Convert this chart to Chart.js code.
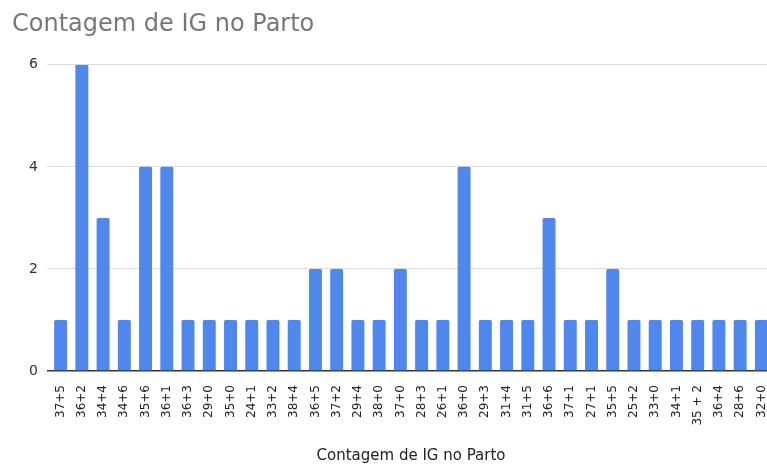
<!DOCTYPE html>
<html>
<head>
<meta charset="utf-8">
<script src="https://cdn.jsdelivr.net/npm/chart.js@4"></script>
<style>
  html, body { margin: 0; padding: 0; background: #fff; overflow: hidden; }
  #wrap { width: 772px; height: 467px; position: relative; }
</style>
</head>
<body>
<div id="wrap"><canvas id="c"></canvas></div>
<script>
// Gestational age at delivery (weeks+days) and how many times each occurs
const categories = [
  "37+5", "36+2", "34+4", "34+6", "35+6", "36+1", "36+3", "29+0", "35+0", "24+1",
  "33+2", "38+4", "36+5", "37+2", "29+4", "38+0", "37+0", "28+3", "26+1", "36+0",
  "29+3", "31+4", "31+5", "36+6", "37+1", "27+1", "35+5", "25+2", "33+0", "34+1",
  "35 + 2", "36+4", "28+6", "32+0"
];
const counts = [
  1, 6, 3, 1, 4, 4, 1, 1, 1, 1,
  1, 1, 2, 2, 1, 1, 2, 1, 1, 4,
  1, 1, 1, 3, 1, 1, 2, 1, 1, 1,
  1, 1, 1, 1
];
const yTicks = [0, 2, 4, 6];

const FONT = "'DejaVu Sans', 'Liberation Sans', sans-serif";

new Chart(document.getElementById('c'), {
  type: 'bar',
  data: {
    labels: categories,
    datasets: [{
      label: 'Contagem de IG no Parto',
      data: counts,
      backgroundColor: '#4f87ec',
      borderRadius: 1.5,
      borderSkipped: 'start',
      barPercentage: 0.61,
      categoryPercentage: 1.0
    }]
  },
  options: {
    responsive: true,
    maintainAspectRatio: false,
    animation: false,
    layout: { padding: { left: 12, right: 0, top: 0, bottom: 0 } },
    plugins: {
      legend: { display: false },
      tooltip: { enabled: false },
      title: {
        display: true,
        text: 'Contagem de IG no Parto',
        align: 'start',
        color: '#777',
        font: { family: FONT, size: 24, weight: 'normal' },
        padding: { top: 10, bottom: 26 }
      }
    },
    scales: {
      x: {
        grid: { display: false },
        border: { display: false },
        ticks: {
          color: '#222',
          font: { family: FONT, size: 12 },
          maxRotation: 90,
          minRotation: 90,
          autoSkip: false,
          padding: 6
        },
        title: {
          display: true,
          text: 'Contagem de IG no Parto',
          color: '#222',
          font: { family: FONT, size: 15 },
          padding: { top: 4, bottom: 2 }
        },
        afterFit: (s) => {
          s.height = 96;
          // the plot runs right up to the canvas edge; no extra room for the last label
          s.paddingLeft = 0;
          s.paddingRight = 0;
        }
      },
      y: {
        min: 0,
        max: 6,
        afterBuildTicks: (s) => { s.ticks = yTicks.map(v => ({ value: v })); },
        afterFit: (s) => { s.width = 38; },
        border: { display: false },
        grid: {
          color: (ctx) => ctx.tick && ctx.tick.value === 0 ? '#333' : '#dcdcdc',
          lineWidth: (ctx) => ctx.tick && ctx.tick.value === 0 ? 1.5 : 1,
          tickLength: 3,
          drawTicks: true
        },
        ticks: {
          color: '#333',
          font: { family: FONT, size: 14 },
          padding: 9
        }
      }
    }
  }
});
</script>
</body>
</html>
